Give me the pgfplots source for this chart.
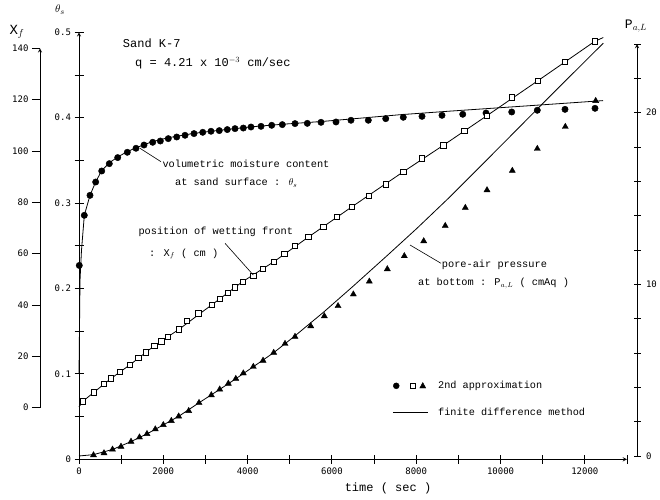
\documentclass[border=0pt]{standalone}
\usepackage{fontspec}
\setmainfont{Liberation Mono}
\newfontfamily\tickfont{DejaVu Sans Mono}
\usepackage{pgfplots}
\pgfplotsset{compat=1.18}

\pgfplotsset{
  base/.style={
    scale only axis, clip=false,
    axis line style={-, line width=0.9pt},
    tick style={black, line width=0.9pt},
    tick align=inside,
    major tick length=9pt, minor tick length=9pt,
    tick label style={font=\fontsize{9}{10}\tickfont},
    /pgf/number format/assume math mode=true,
    /pgf/number format/1000 sep={},
    scaled ticks=false,
  },
}

\begin{document}
\begin{tikzpicture}
\useasboundingbox (0,0) rectangle (660pt,499pt);

% theta_s axis (inner left) with time axis
\begin{axis}[base,
  at={(79pt,39.7pt)}, anchor=south west,
  width=548pt, height=427pt,
  xmin=0, xmax=13000, ymin=0, ymax=0.5,
  axis x line=bottom, axis y line=left,
  xtick={0,2000,4000,6000,8000,10000,12000},
  minor xtick={1000,3000,5000,7000,9000,11000,13000},
  ytick={0,0.1,0.2,0.3,0.4,0.5},
  minor ytick={0.05,0.15,0.25,0.35,0.45},
  legend style={draw=none, fill=none, at={(0.566,0.19)}, anchor=north west,
    font=\fontsize{10.2}{12}\selectfont, row sep=16pt,
    nodes={inner sep=1pt},
    /tikz/every odd column/.append style={column sep=9pt}},
  legend cell align=left,
]
\addplot[black, line width=0.8pt, forget plot] coordinates {
(0,0.10) (24,0.2096) (59,0.2447) (126,0.2857) (261,0.3091) (396,0.3249)
(539,0.3380) (719,0.3472) (925,0.3542) (1139,0.3601) (1352,0.3648)
(1732,0.3718) (2111,0.3765) (2728,0.3817) (3321,0.3852) (4080,0.3893)
(4816,0.3923) (5741,0.3955) (6453,0.3985) (7615,0.4035) (8801,0.4077)
(9987,0.4117) (11173,0.4157) (12431,0.4200)};
\addplot[only marks, mark=*, mark size=3.2pt, black, forget plot] coordinates {
(7,0.227) (126,0.2857) (261,0.3091) (396,0.3247) (539,0.3376) (719,0.3462)
(918,0.3533) (1146,0.3595) (1352,0.3642) (1542,0.3680) (1748,0.3712)
(1929,0.3727) (2118,0.3755) (2318,0.3774) (2515,0.3794) (2728,0.3814)
(2935,0.3829) (3131,0.3841) (3328,0.3849) (3518,0.3861) (3701,0.3872)
(3898,0.3879) (4080,0.3891) (4318,0.3899) (4571,0.3911) (4823,0.3919)
(5124,0.3931) (5416,0.3934) (5741,0.3946) (6097,0.3950) (6452,0.3970)
(6863,0.3970) (7276,0.3989) (7693,0.4005) (8137,0.4016) (8611,0.4028)
(9103,0.4040) (9655,0.4055) (10265,0.4067) (10872,0.4087) (11529,0.4098)
(12241,0.4110)};
\addlegendimage{legend image code/.code={
  \fill[black] (3.5pt,0pt) circle (3pt);
  \draw[black, fill=white, line width=0.8pt] (17.5pt,-2.4pt) rectangle (22.3pt,2.4pt);
  \fill[black] (27pt,-2.2pt) -- (33pt,-2.2pt) -- (30pt,3.3pt) -- cycle;
  \path[draw=none, fill=none] (0pt,0pt) -- (35pt,0pt);}}
\addlegendentry{2nd approximation}
\addlegendimage{legend image code/.code={
  \draw[black, line width=0.8pt] (0pt,0pt) -- (35pt,0pt);}}
\addlegendentry{finite difference method}
\end{axis}

% X_f axis (outer left)
\begin{axis}[base,
  at={(40pt,91.3pt)}, anchor=south west,
  width=587pt, height=359.4pt,
  xmin=-925, xmax=13000, ymin=0, ymax=140,
  hide x axis, axis y line=left,
  tick align=outside, major tick length=8pt,
  ytick={0,20,40,60,80,100,120,140},
]
\addplot[black, line width=0.8pt] coordinates {
(0,0.3) (88,2.45) (356,6.03) (759,11.39) (1210,16.72) (1786,24.11)
(2372,30.53) (3148,40.06) (3883,49.12) (4626,56.9) (5444,66.5) (6476,78.28)
(7693,91.9) (8642,102.2) (9672,113.7) (10889,127.4) (12234,142.7) (12438,144.2)};
\addplot[only marks, mark=square*, mark size=2.7pt, black, fill=white,
  mark options={line width=0.8pt}] coordinates {
(88,2.45) (356,6.03) (586,9.22) (759,11.39) (965,14.0) (1210,16.72)
(1407,19.33) (1589,21.51) (1786,24.11) (1952,25.78) (2111,27.53) (2372,30.53)
(2562,33.72) (2835,36.75) (3148,40.06) (3345,42.39) (3533,44.61) (3701,46.94)
(3883,49.12) (4135,51.41) (4365,53.98) (4626,56.9) (4870,59.89) (5124,63.0)
(5444,66.5) (5796,70.39) (6121,74.4) (6476,78.28) (6880,82.56) (7283,87.0)
(7693,91.9) (8137,97.1) (8642,102.2) (9140,107.8) (9672,113.7) (10265,120.8)
(10889,127.4) (11529,134.6) (12234,142.7)};
\end{axis}

% P_{a,L} axis (right)
\begin{axis}[base,
  at={(79pt,43pt)}, anchor=south west,
  width=558pt, height=412pt,
  xmin=0, xmax=13237, ymin=0, ymax=24,
  hide x axis, axis y line=right,
  major tick length=7pt, minor tick length=7pt,
  ytick={0,10,20}, minor ytick={2,4,6,8,12,14,16,18,22,24},
  yticklabel style={xshift=2pt},
]
\addplot[black, line width=0.8pt] coordinates {
(0,0) (344,0.08) (795,0.38) (1234,0.84) (1613,1.29) (2000,1.81) (2364,2.31)
(2847,3.10) (3338,3.88) (3720,4.50) (4135,5.20) (4619,6.02) (5124,7.0)
(5812,8.4) (6507,9.9) (7299,11.65) (8011,13.25) (8801,15.1) (9987,18.02)
(11173,20.96) (12438,24.05)};
\addplot[only marks, mark=triangle*, mark size=3.5pt, black] coordinates {
(344,0.05) (593,0.17) (795,0.38) (996,0.55) (1234,0.84) (1435,1.09)
(1613,1.29) (1810,1.56) (2000,1.81) (2190,2.05) (2364,2.31) (2602,2.63)
(2847,3.10) (3139,3.55) (3338,3.88) (3542,4.22) (3720,4.50) (3898,4.82)
(4135,5.20) (4366,5.56) (4619,6.02) (4887,6.54) (5124,6.95) (5497,7.57)
(5820,8.15) (6145,8.74) (6508,9.42) (6887,10.17) (7314,10.89) (7717,11.65)
(8177,12.52) (8688,13.41) (9164,14.46) (9679,15.49) (10279,16.62)
(10872,17.90) (11536,19.18) (12257,20.69)};
\end{axis}

% axis labels
\node[font=\fontsize{14}{16}\selectfont] at (17pt,467pt) {X$_{f}$};
\node[font=\fontsize{11}{13}\selectfont] at (60pt,489pt) {$\theta_s$};
\node[font=\fontsize{13}{15}\selectfont] at (636pt,473pt) {P$_{a,L}$};
\node[font=\fontsize{12}{14}\selectfont] at (388pt,11pt) {time ( sec )};

% annotations
\begin{scope}[every node/.style={anchor=west, inner sep=0pt}]
\node[font=\fontsize{12}{14}\selectfont] at (122.7pt,455.7pt) {Sand K-7};
\node[font=\fontsize{12}{14}\selectfont] at (135pt,436pt) {q = 4.21 x 10$^{-3}$ cm/sec};
\node[font=\fontsize{10.3}{12}\selectfont] at (162.3pt,334.7pt) {volumetric moisture content};
\node[font=\fontsize{10.3}{12}\selectfont] at (175pt,316pt) {at sand surface : $\theta_s$};
\node[font=\fontsize{10.3}{12}\selectfont] at (138.3pt,267.3pt) {position of wetting front};
\node[font=\fontsize{10.3}{12}\selectfont] at (149pt,245pt) {: X$_{f}$ ( cm )};
\node[font=\fontsize{10.3}{12}\selectfont] at (441.7pt,234pt) {pore-air pressure};
\node[font=\fontsize{10.3}{12}\selectfont] at (418pt,215.7pt) {at bottom : P$_{a,L}$ ( cmAq )};
\end{scope}
\draw[line width=0.6pt] (140pt,350.7pt) -- (161pt,337.3pt);
\draw[line width=0.6pt] (225pt,255.7pt) -- (253.3pt,224pt);
\draw[line width=0.6pt] (410pt,254pt) -- (441pt,235.7pt);
\end{tikzpicture}
\end{document}
